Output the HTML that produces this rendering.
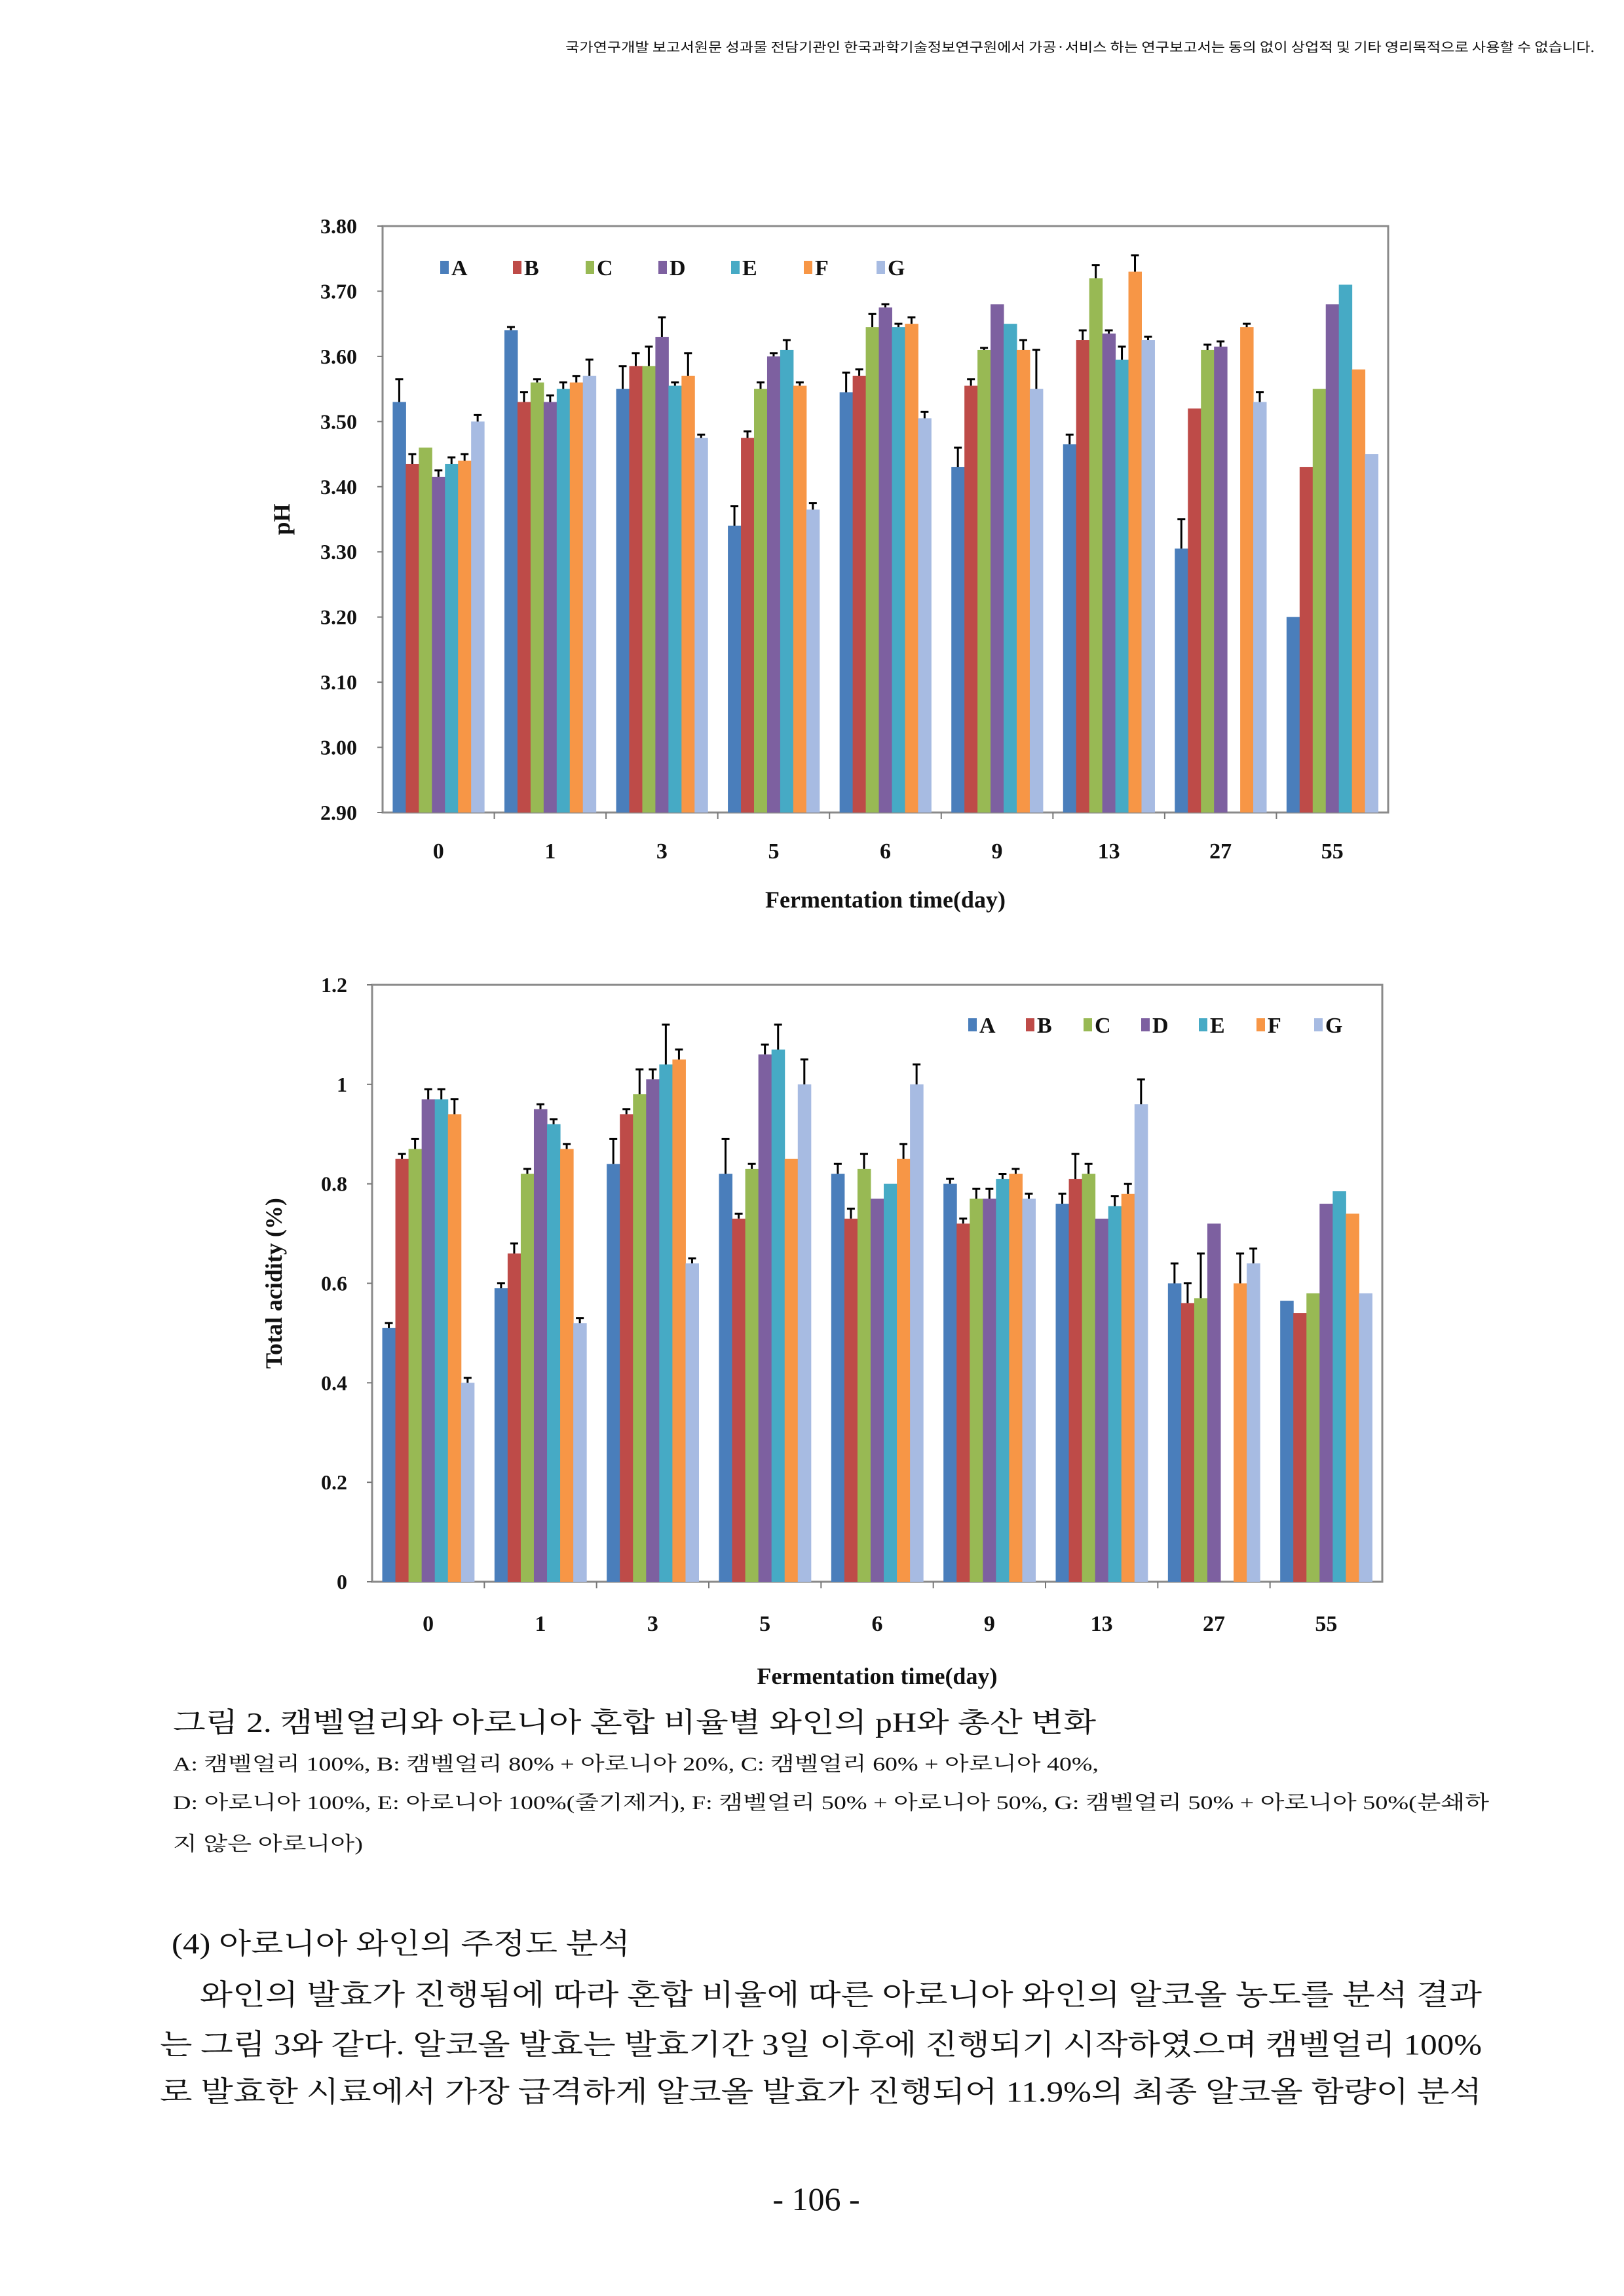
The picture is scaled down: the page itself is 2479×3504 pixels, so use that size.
<!DOCTYPE html>
<html><head><meta charset="utf-8">
<style>
html,body{margin:0;padding:0;background:#fff;}
svg{display:block;}
.kr{font-family:"Liberation Serif","Noto Serif CJK SC","Noto Sans CJK KR",serif;fill:#111;}
.ch{font-family:"Liberation Serif",serif;font-weight:bold;fill:#111;}
</style></head>
<body>
<svg id="page" width="2479" height="3504" viewBox="0 0 2479 3504" xmlns="http://www.w3.org/2000/svg">
<rect width="2479" height="3504" fill="#fff"/>
<text class="kr" x="863" y="79" font-size="20" textLength="1571" lengthAdjust="spacingAndGlyphs" style="font-family:'Noto Sans CJK KR',sans-serif">국가연구개발 보고서원문 성과물 전담기관인 한국과학기술정보연구원에서 가공·서비스 하는 연구보고서는 동의 없이 상업적 및 기타 영리목적으로 사용할 수 없습니다.</text>
<g id="chart1"></g>
<g id="chart2"></g>
<text class="kr" x="264" y="2643" font-size="42" textLength="1409" lengthAdjust="spacingAndGlyphs">그림 2. 캠벨얼리와 아로니아 혼합 비율별 와인의 pH와 총산 변화</text>
<text class="kr" x="264" y="2702" font-size="30" textLength="1413" lengthAdjust="spacingAndGlyphs">A: 캠벨얼리 100%, B: 캠벨얼리 80% + 아로니아 20%, C: 캠벨얼리 60% + 아로니아 40%,</text>
<text class="kr" x="264" y="2761" font-size="30" textLength="2009" lengthAdjust="spacingAndGlyphs">D: 아로니아 100%, E: 아로니아 100%(줄기제거), F: 캠벨얼리 50% + 아로니아 50%, G: 캠벨얼리 50% + 아로니아 50%(분쇄하</text>
<text class="kr" x="264" y="2824" font-size="30" textLength="290" lengthAdjust="spacingAndGlyphs">지 않은 아로니아)</text>
<text class="kr" x="262" y="2981" font-size="44" textLength="700" lengthAdjust="spacingAndGlyphs">(4) 아로니아 와인의 주정도 분석</text>
<text class="kr" x="305" y="3059" font-size="44" textLength="1957" lengthAdjust="spacingAndGlyphs">와인의 발효가 진행됨에 따라 혼합 비율에 따른 아로니아 와인의 알코올 농도를 분석 결과</text>
<text class="kr" x="244" y="3135" font-size="44" textLength="2018" lengthAdjust="spacingAndGlyphs">는 그림 3와 같다. 알코올 발효는 발효기간 3일 이후에 진행되기 시작하였으며 캠벨얼리 100%</text>
<text class="kr" x="244" y="3207" font-size="44" textLength="2018" lengthAdjust="spacingAndGlyphs">로 발효한 시료에서 가장 급격하게 알코올 발효가 진행되어 11.9%의 최종 알코올 함량이 분석</text>
<text class="kr" x="1246" y="3373" font-size="50" text-anchor="middle">- 106 -</text>
</svg>
<script>
const categories = ["0","1","3","5","6","9","13","27","55"];
const seriesNames = ["A","B","C","D","E","F","G"];
const colors = ["#4a7ebb","#be4b48","#98b954","#7d60a0","#46aac5","#f79646","#a7bbe2"];
const phA = [3.53,3.64,3.55,3.34,3.545,3.43,3.465,3.305,3.20];
const phB = [3.435,3.53,3.585,3.475,3.57,3.555,3.625,3.52,3.43];
const phC = [3.46,3.56,3.585,3.55,3.645,3.61,3.72,3.61,3.55];
const phD = [3.415,3.53,3.63,3.60,3.675,3.68,3.635,3.615,3.68];
const phE = [3.435,3.55,3.555,3.61,3.645,3.65,3.595,null,3.71];
const phF = [3.44,3.56,3.57,3.555,3.65,3.61,3.73,3.645,3.58];
const phG = [3.50,3.57,3.475,3.365,3.505,3.55,3.625,3.53,3.45];
const phErrA = [0.035,0.005,0.035,0.03,0.03,0.03,0.015,0.045,0];
const phErrB = [0.015,0.015,0.02,0.01,0.01,0.01,0.015,0,0];
const phErrC = [0,0.005,0.03,0.01,0.02,0.003,0.02,0.008,0];
const phErrD = [0.01,0.01,0.03,0.005,0.005,0,0.005,0.008,0];
const phErrE = [0.01,0.01,0.005,0.015,0.005,0,0.02,0,0];
const phErrF = [0.01,0.01,0.035,0.005,0.01,0.015,0.025,0.005,0];
const phErrG = [0.01,0.025,0.005,0.01,0.01,0.06,0.005,0.015,0];
const phTicks = ["2.90","3.00","3.10","3.20","3.30","3.40","3.50","3.60","3.70","3.80"];
const taA = [0.51,0.59,0.84,0.82,0.82,0.80,0.76,0.60,0.565];
const taB = [0.85,0.66,0.94,0.73,0.73,0.72,0.81,0.56,0.54];
const taC = [0.87,0.82,0.98,0.83,0.83,0.77,0.82,0.57,0.58];
const taD = [0.97,0.95,1.01,1.06,0.77,0.77,0.73,0.72,0.76];
const taE = [0.97,0.92,1.04,1.07,0.80,0.81,0.755,null,0.785];
const taF = [0.94,0.87,1.05,0.85,0.85,0.82,0.78,0.60,0.74];
const taG = [0.40,0.52,0.64,1.00,1.00,0.77,0.96,0.64,0.58];
const taErrA = [0.01,0.01,0.05,0.07,0.02,0.01,0.02,0.04,0];
const taErrB = [0.01,0.02,0.01,0.01,0.02,0.01,0.05,0.04,0];
const taErrC = [0.02,0.01,0.05,0.01,0.03,0.02,0.02,0.09,0];
const taErrD = [0.02,0.01,0.02,0.02,0,0.02,0,0,0];
const taErrE = [0.02,0.01,0.08,0.05,0,0.01,0.02,0,0];
const taErrF = [0.03,0.01,0.02,0,0.03,0.01,0.02,0.06,0];
const taErrG = [0.01,0.01,0.01,0.05,0.04,0.01,0.05,0.03,0];
const taTicks = ["0","0.2","0.4","0.6","0.8","1","1.2"];

const NS="http://www.w3.org/2000/svg";
function mk(parent,tag,attrs){const e=document.createElementNS(NS,tag);for(const k in attrs)e.setAttribute(k,attrs[k]);parent.appendChild(e);return e;}

function drawChart(g,cfg){
  const {L,R,T,B,ymin,ymax,ticks,series,errs,yTitle,yTitleX,xLabY,xTitleY,legX,legY,legStep,tickRight} = cfg;
  const yS=v=>B-(v-ymin)/(ymax-ymin)*(B-T);
  const gw=(R-L)/categories.length;
  const bw=gw*0.117;
  const f=mk(g,'rect',{x:L,y:T,width:R-L,height:B-T,fill:'none',stroke:'#8a8a8a','stroke-width':3});
  
  
  ticks.forEach(t=>{
    const y=yS(parseFloat(t));
    const tk=mk(g,'line',{x1:L-8,x2:L,y1:y,y2:y,stroke:'#777','stroke-width':2});
    
    
    const tx=mk(g,'text',{x:tickRight,y:y+11,'font-size':32,'text-anchor':'end',class:'ch'});
    tx.textContent=t;
    
    
  });
  categories.forEach((c,i)=>{
    const x0=L+i*gw;
    if(i>0){const tk=mk(g,'line',{x1:x0,x2:x0,y1:B,y2:B+10,stroke:'#777','stroke-width':2});
      
      }
    const start=x0+(gw-bw*7)/2;
    series.forEach((s,j)=>{
      const v=s[i]; if(v===null) return;
      const bx=start+j*bw, by=yS(v);
      const r=mk(g,'rect',{x:bx,y:by,width:bw+0.5,height:B-by,fill:colors[j]});
      
      
      const e=errs[j][i];
      if(e>0){const ey=yS(v+e),cx=bx+bw/2;
        const el=mk(g,'path',{d:`M${cx},${by}V${ey}M${cx-6},${ey}H${cx+6}`,stroke:'#000','stroke-width':3,fill:'none'});
        
        }
    });
    const lb=mk(g,'text',{x:x0+gw/2,y:xLabY,'font-size':34,'text-anchor':'middle',class:'ch'});
    lb.textContent=c;
    
    
  });
  const xt=mk(g,'text',{x:(L+R)/2,y:xTitleY,'font-size':36,'text-anchor':'middle',class:'ch'});
  xt.textContent='Fermentation time(day)';
  
  
  const yt=mk(g,'text',{x:yTitleX,y:(T+B)/2,'font-size':36,'text-anchor':'middle',class:'ch',transform:`rotate(-90 ${yTitleX} ${(T+B)/2})`});
  yt.textContent=yTitle;
  
  
  seriesNames.forEach((n,j)=>{
    const lx=legX+j*legStep;
    const sw=mk(g,'rect',{x:lx,y:legY-10,width:13,height:20,fill:colors[j]});
    
    
    const lt=mk(g,'text',{x:lx+17,y:legY+12,'font-size':34,class:'ch'});
    lt.textContent=n;
    
    
  });
}
drawChart(document.getElementById('chart1'),{L:584,R:2119,T:345,B:1240,ymin:2.9,ymax:3.8,ticks:phTicks,
  series:[phA,phB,phC,phD,phE,phF,phG],errs:[phErrA,phErrB,phErrC,phErrD,phErrE,phErrF,phErrG],
  yTitle:'pH',yTitleX:442,xLabY:1310,xTitleY:1385,legX:672,legY:408,legStep:111,tickRight:545});
drawChart(document.getElementById('chart2'),{L:568,R:2110,T:1503,B:2414,ymin:0,ymax:1.2,ticks:taTicks,
  series:[taA,taB,taC,taD,taE,taF,taG],errs:[taErrA,taErrB,taErrC,taErrD,taErrE,taErrF,taErrG],
  yTitle:'Total acidity (%)',yTitleX:430,xLabY:2489,xTitleY:2570,legX:1478,legY:1564,legStep:88,tickRight:530});
</script>
</body></html>
